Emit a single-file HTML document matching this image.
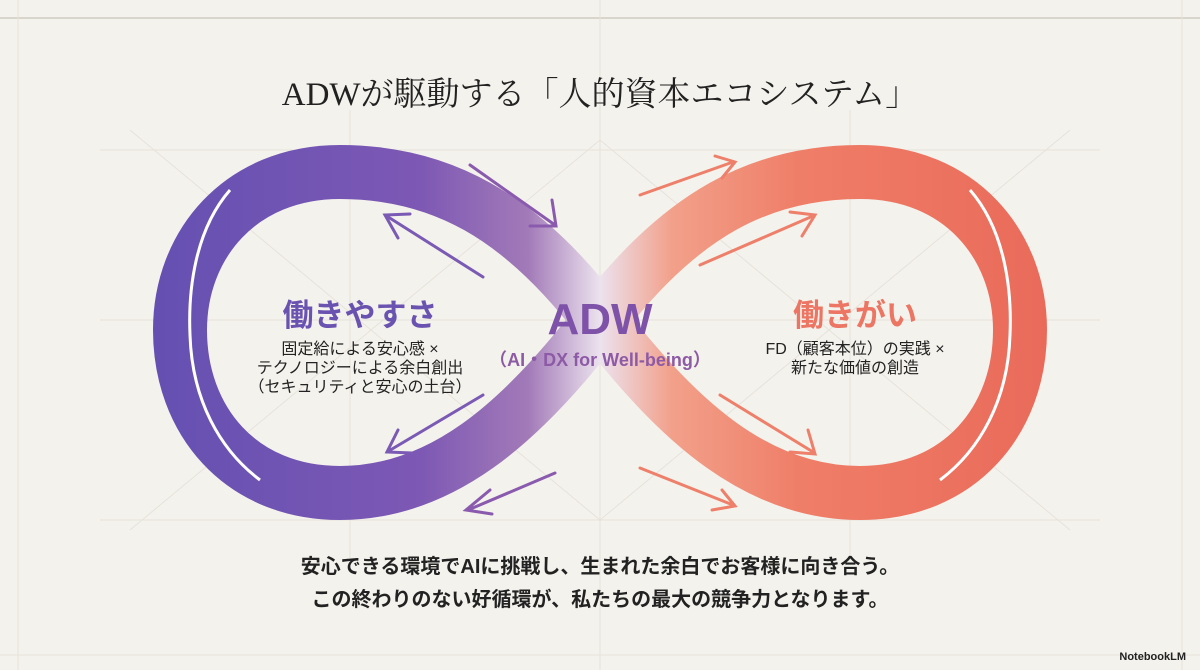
<!DOCTYPE html>
<html><head><meta charset="utf-8"><style>
body{margin:0;width:1200px;height:670px;background:#f4f2ec;overflow:hidden;position:relative;font-family:"Liberation Sans","Noto Sans CJK JP",sans-serif}
.t{position:absolute;left:0;width:1200px;text-align:center}
</style></head><body>
<svg width="1200" height="670" style="position:absolute;left:0;top:0">
<defs>
<linearGradient id="g" gradientUnits="userSpaceOnUse" x1="150" y1="0" x2="1050" y2="0">
<stop offset="0" stop-color="#6450b2"/><stop offset="0.3" stop-color="#7d58b4"/><stop offset="0.42" stop-color="#a27ab8"/>
<stop offset="0.5" stop-color="#ece2ee"/><stop offset="0.58" stop-color="#f2a08a"/><stop offset="0.72" stop-color="#ef7e68"/><stop offset="1" stop-color="#ea6a5a"/>
</linearGradient>
</defs>
<g stroke="#e6e3db" stroke-width="1" fill="none">
<line x1="0" y1="18" x2="1200" y2="18" stroke="#d8d5cd" stroke-width="2"/>
<line x1="0" y1="655" x2="1200" y2="655"/>
<line x1="18" y1="0" x2="18" y2="670"/><line x1="1182" y1="0" x2="1182" y2="670"/>
<line x1="600" y1="0" x2="600" y2="670"/>
<line x1="100" y1="150" x2="1100" y2="150"/><line x1="100" y1="320" x2="1100" y2="320"/><line x1="100" y1="520" x2="1100" y2="520"/>
<line x1="350" y1="110" x2="350" y2="560"/><line x1="850" y1="110" x2="850" y2="560"/>
<line x1="130" y1="130" x2="600" y2="520"/><line x1="1070" y1="130" x2="600" y2="520"/>
<line x1="130" y1="530" x2="600" y2="140"/><line x1="1070" y1="530" x2="600" y2="140"/>
</g>
<g fill="none" stroke="url(#g)" stroke-linecap="butt">
<path d="M600,320 C520,215 440,172 340,172 C240,172 180,245 180,330 C180,420 240,493 340,493 C440,493 520,425 600,320" stroke-width="54"/>
<path d="M600,320 C680,215 760,172 860,172 C960,172 1020,245 1020,330 C1020,420 960,493 860,493 C760,493 680,425 600,320" stroke-width="54"/>
</g>
<g fill="none" stroke="#fff" stroke-width="3">
<path d="M230,190 C195,230 188,290 190,335 C192,400 220,450 260,480"/>
<path d="M970,190 C1005,230 1012,290 1010,335 C1008,400 980,450 940,480"/>
</g>
<g fill="none" stroke-width="3" stroke-linecap="round">
<path d="M470,165 L555,225 M530,226 L556,226 L552,200" stroke="#8a5aae"/>
<path d="M483,277 L385,215 M398,238 L385,215 L410,214" stroke="#7a5ab4"/>
<path d="M483,395 L387,452 M412,453 L387,452 L398,430" stroke="#7a5ab4"/>
<path d="M555,473 L468,510 M490,490 L466,510 L492,514" stroke="#8a5aae"/>
<path d="M640,195 L733,162 M715,156 L735,162 L722,178" stroke="#ee7f6a"/>
<path d="M700,265 L813,216 M790,212 L815,215 L802,236" stroke="#ee7f6a"/>
<path d="M720,395 L813,452 M790,452 L815,454 L808,430" stroke="#ee7f6a"/>
<path d="M640,468 L733,505 M712,510 L735,506 L722,490" stroke="#ee7f6a"/>
</g>
</svg>
<div class="t" style="top:68px;font-family:'Liberation Serif','Noto Serif CJK SC',serif;font-size:33px;color:#222">ADWが駆動する「人的資本エコシステム」</div>
<div style="position:absolute;left:240px;width:240px;text-align:center;top:290px;font-size:31px;font-weight:bold;color:#6a52b0">働きやすさ</div>
<div style="position:absolute;left:230px;width:260px;text-align:center;top:340px;font-size:16px;line-height:19px;color:#222">固定給による安心感 ×<br>テクノロジーによる余白創出<br>（セキュリティと安心の土台）</div>
<div style="position:absolute;left:500px;width:200px;text-align:center;top:295px;font-size:44px;font-weight:bold;color:#7e52a8">ADW</div>
<div style="position:absolute;left:470px;width:260px;text-align:center;top:346px;font-size:18px;font-weight:bold;color:#8d5aa6">（AI・DX for Well-being）</div>
<div style="position:absolute;left:740px;width:230px;text-align:center;top:290px;font-size:31px;font-weight:bold;color:#ec7563">働きがい</div>
<div style="position:absolute;left:740px;width:230px;text-align:center;top:340px;font-size:16px;line-height:19px;color:#222">FD（顧客本位）の実践 ×<br>新たな価値の創造</div>
<div class="t" style="top:551px;font-size:20px;font-weight:bold;color:#222;line-height:33px">安心できる環境でAIに挑戦し、生まれた余白でお客様に向き合う。<br>この終わりのない好循環が、私たちの最大の競争力となります。</div>
<div style="position:absolute;right:14px;top:651px;font-size:11px;font-weight:bold;color:#222">NotebookLM</div>
</body></html>
